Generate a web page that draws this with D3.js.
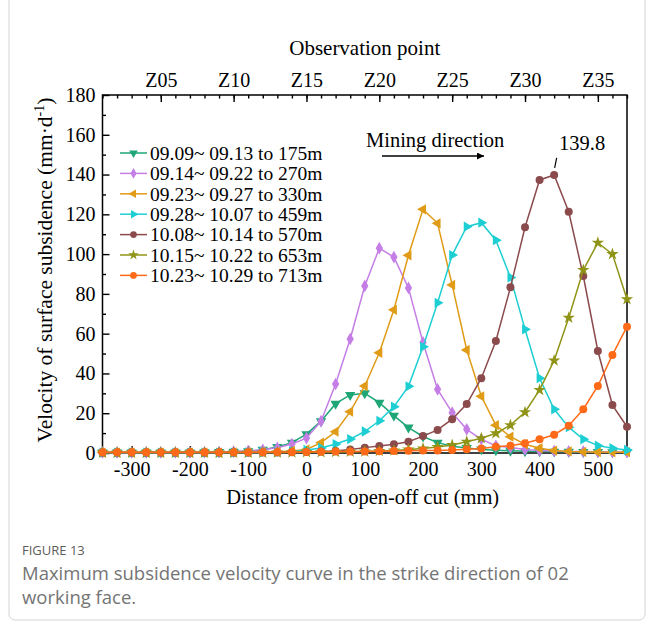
<!DOCTYPE html>
<html>
<head>
<meta charset="utf-8">
<script src="https://cdn.jsdelivr.net/npm/d3@7"></script>
<style>
  body { margin: 0; background: #fff; }
  svg { display: block; }
</style>
</head>
<body>
<script>
// distance of each observation point from the open-off cut (Z01 ... Z37)
var distance = [-350, -325, -300, -275, -250, -225, -200, -175, -150, -125, -100, -75, -50, -25,
	0, 25, 50, 75, 100, 125, 150, 175, 200, 225, 250, 275, 300, 325, 350, 375, 400, 425, 450, 475, 500, 525, 550]

var s0909 = [0.3, 0.3, 0.3, 0.3, 0.3, 0.3, 0.3, 0.4, 0.5, 0.6, 0.9, 1.6, 3, 5.2,
	9.5, 16, 24.8, 29.2, 30, 25.3, 18.8, 12.8, 8.3, 5.2, 3.4, 2.5, 1.8, 1.4, 1.1, 0.9, 0.8, 0.7, 0.6, 0.5, 0.5, 0.4, 0.4]
var s0914 = [0.3, 0.3, 0.3, 0.3, 0.3, 0.3, 0.3, 0.4, 0.5, 0.7, 1.0, 1.6, 2.6, 4.5,
	7.5, 16, 34.7, 57.3, 84, 103, 98.5, 83, 55.6, 32, 20.3, 11.9, 6.9, 3.6, 2.8, 1.8, 1.3, 1.0, 0.8, 0.7, 0.6, 0.5, 0.5]
var s0923 = [0.2, 0.2, 0.2, 0.2, 0.2, 0.2, 0.2, 0.2, 0.2, 0.3, 0.3, 0.4, 0.6, 1.0,
	1.8, 5.2, 10.7, 20.8, 33.7, 50.4, 72, 99.4, 122.5, 115.5, 84.5, 51.8, 28.5, 14, 8.2, 4.4, 2.4, 1.2, 0.8, 0.6, 0.5, 0.4, 0.4]
var s0928 = [0.2, 0.2, 0.2, 0.2, 0.2, 0.2, 0.2, 0.2, 0.2, 0.2, 0.3, 0.3, 0.4, 0.8,
	1.5, 2.5, 4.5, 7, 10.8, 16.2, 23.3, 33.5, 53.4, 75.5, 99.5, 113.8, 115.8, 107, 88.3, 62.2, 37.6, 22, 13, 6.9, 3.7, 2.4, 1.5]
var s1008 = [0.2, 0.2, 0.2, 0.2, 0.2, 0.2, 0.2, 0.2, 0.2, 0.2, 0.2, 0.3, 0.3, 0.4,
	0.5, 0.8, 1.0, 1.8, 2.7, 3.5, 4.4, 5.7, 8.5, 11.6, 17, 24.6, 37.6, 56.3, 83.3, 113.5, 137.3, 139.8, 121.3, 89, 51.3, 24.1, 13.2]
var s1015 = [0.2, 0.2, 0.2, 0.2, 0.2, 0.2, 0.2, 0.2, 0.2, 0.2, 0.2, 0.2, 0.3, 0.3,
	0.4, 0.4, 0.5, 0.6, 0.8, 1.0, 1.3, 1.8, 2.3, 3.0, 4.0, 5.7, 7.4, 9.9, 14, 20.5, 31.7, 46.5, 68, 92, 105.7, 100, 77.3]
var s1023 = [0.4, 0.4, 0.4, 0.4, 0.4, 0.4, 0.4, 0.4, 0.4, 0.4, 0.4, 0.4, 0.5, 0.5,
	0.5, 0.6, 0.7, 0.7, 0.8, 0.9, 1.0, 1.1, 1.2, 1.3, 1.5, 1.9, 2.3, 3.2, 3.7, 4.9, 6.9, 9.2, 13.7, 22, 33.7, 49.3, 63.5]

var seriesNames = ["09.09~ 09.13 to 175m", "09.14~ 09.22 to 270m", "09.23~ 09.27 to 330m",
	"09.28~ 10.07 to 459m", "10.08~ 10.14 to 570m", "10.15~ 10.22 to 653m", "10.23~ 10.29 to 713m"]
var seriesValues = [s0909, s0914, s0923, s0928, s1008, s1015, s1023]
var seriesColors = ["#1ea676", "#c47ee6", "#e09b17", "#1dcfd3", "#8b4a4b", "#8f9416", "#ff6a19"]

// observation point labels on top axis
var obsNumbers = [5, 10, 15, 20, 25, 30, 35]
var obsLabels = ["Z05", "Z10", "Z15", "Z20", "Z25", "Z30", "Z35"]

var xTicks = [-300, -200, -100, 0, 100, 200, 300, 400, 500]
var yTicks = [0, 20, 40, 60, 80, 100, 120, 140, 160, 180]

var w = 652
var h = 630
var pLeft = 102.5, pRight = 627, pTop = 95, pBottom = 453
var serif = "'Liberation Serif', 'Times New Roman', serif"

var svg = d3.select("body").append("svg")
	.attr("width", w)
	.attr("height", h)

// card frame
svg.append("rect")
	.attr("x", 9).attr("y", -12)
	.attr("width", 636).attr("height", 632)
	.attr("rx", 6)
	.attr("fill", "none")
	.attr("stroke", "#d4d4d4")
	.attr("stroke-width", 1)

// Scales
var xScale = d3.scaleLinear().domain([-350, 550]).range([pLeft, pRight])
var yScale = d3.scaleLinear().domain([0, 180]).range([pBottom, pTop])

// Axes
function styleAxis(g){
	g.select(".domain").remove()
	g.selectAll("line").attr("stroke", "#000").attr("stroke-width", 1.4)
	g.selectAll("text").attr("font-family", serif).attr("font-size", "20px").attr("fill", "#000")
}

svg.append("g")
	.attr("transform", "translate(0," + pBottom + ")")
	.call(d3.axisBottom(xScale).tickValues([-350, -250, -150, -50, 50, 150, 250, 350, 450, 550]).tickSize(-3.5).tickFormat(""))
	.call(styleAxis)
svg.append("g")
	.attr("transform", "translate(0," + pBottom + ")")
	.call(d3.axisBottom(xScale).tickValues(xTicks).tickSize(-7).tickPadding(9).tickFormat((d) => String(d)))
	.call(styleAxis)

svg.append("g")
	.attr("transform", "translate(" + pLeft + ",0)")
	.call(d3.axisLeft(yScale).tickValues([10, 30, 50, 70, 90, 110, 130, 150, 170]).tickSize(-3.5).tickFormat(""))
	.call(styleAxis)
svg.append("g")
	.attr("transform", "translate(" + pLeft + ",0)")
	.call(d3.axisLeft(yScale).tickValues(yTicks).tickSize(-7).tickPadding(7).tickFormat((d) => String(d)))
	.call(styleAxis)

svg.append("g")
	.attr("transform", "translate(0," + pTop + ")")
	.call(d3.axisTop(xScale).tickValues(distance).tickSize(-3.5).tickFormat(""))
	.call(styleAxis)
svg.append("g")
	.attr("transform", "translate(0," + pTop + ")")
	.call(d3.axisTop(xScale)
		.tickValues(obsNumbers.map((n) => distance[n - 1]))
		.tickSize(-7).tickPadding(8)
		.tickFormat((d, i) => obsLabels[i]))
	.call(styleAxis)

svg.append("rect")
	.attr("x", pLeft).attr("y", pTop)
	.attr("width", pRight - pLeft).attr("height", pBottom - pTop)
	.attr("fill", "none")
	.attr("stroke", "#000")
	.attr("stroke-width", 1.5)

// Markers
var markerTypes = [
	{type: d3.symbolTriangle, rot: 180, size: 46},
	{type: d3.symbolDiamond, rot: 0, size: 46},
	{type: d3.symbolTriangle, rot: -90, size: 46},
	{type: d3.symbolTriangle, rot: 90, size: 46},
	{type: d3.symbolCircle, rot: 0, size: 50},
	{type: d3.symbolStar, rot: 0, size: 48},
	{type: d3.symbolCircle, rot: 0, size: 50}
]

var line = d3.line()
	.x((d, i) => xScale(distance[i]))
	.y((d) => yScale(d))

seriesValues.forEach(function(vals, k){
	var g = svg.append("g")
	g.append("path")
		.datum(vals)
		.attr("d", line)
		.attr("fill", "none")
		.attr("stroke", seriesColors[k])
		.attr("stroke-width", 1.5)
	g.selectAll("path.mk")
		.data(vals)
		.enter()
		.append("path")
		.attr("class", "mk")
		.attr("d", d3.symbol().type(markerTypes[k].type).size(markerTypes[k].size))
		.attr("transform", (d, i) => "translate(" + xScale(distance[i]) + "," + yScale(d) + ") rotate(" + markerTypes[k].rot + ")")
		.attr("fill", seriesColors[k])
})

// Legend
var legend = svg.append("g")
seriesNames.forEach(function(name, k){
	var y = 153 + k * 20.4
	legend.append("line")
		.attr("x1", 120).attr("x2", 147)
		.attr("y1", y).attr("y2", y)
		.attr("stroke", seriesColors[k])
		.attr("stroke-width", 1.5)
	legend.append("path")
		.attr("d", d3.symbol().type(markerTypes[k].type).size(markerTypes[k].size * 0.7))
		.attr("transform", "translate(133.5," + y + ") rotate(" + markerTypes[k].rot + ")")
		.attr("fill", seriesColors[k])
	legend.append("text")
		.attr("x", 150).attr("y", y)
		.attr("dy", "0.35em")
		.attr("font-family", serif)
		.attr("font-size", "19.5px")
		.text(name)
})

// Mining direction note
svg.append("text")
	.attr("x", 366).attr("y", 147)
	.attr("font-family", serif).attr("font-size", "20.5px")
	.text("Mining direction")
svg.append("defs").append("marker")
	.attr("id", "arrow")
	.attr("viewBox", "0 0 10 10")
	.attr("refX", 10).attr("refY", 5)
	.attr("markerWidth", 12).attr("markerHeight", 7)
	.attr("markerUnits", "userSpaceOnUse")
	.attr("orient", "auto")
	.append("path")
	.attr("d", "M0,0L10,5L0,10Z")
	.attr("fill", "#000")
svg.append("line")
	.attr("x1", 382).attr("x2", 484)
	.attr("y1", 156).attr("y2", 156)
	.attr("stroke", "#000").attr("stroke-width", 1.3)
	.attr("marker-end", "url(#arrow)")

// peak annotation
svg.append("line")
	.attr("x1", xScale(425) + 2.5).attr("y1", yScale(139.8) - 17)
	.attr("x2", xScale(425) + 0.5).attr("y2", yScale(139.8) - 7)
	.attr("stroke", "#000").attr("stroke-width", 1.2)
svg.append("text")
	.attr("x", 559).attr("y", 150)
	.attr("font-family", serif).attr("font-size", "20.5px")
	.text("139.8")

// Axis titles
svg.append("text")
	.attr("x", (pLeft + pRight) / 2).attr("y", 55)
	.attr("text-anchor", "middle")
	.attr("font-family", serif).attr("font-size", "21px")
	.text("Observation point")

svg.append("text")
	.attr("x", (pLeft + pRight) / 2 - 2).attr("y", 504)
	.attr("text-anchor", "middle")
	.attr("font-family", serif).attr("font-size", "20.5px")
	.text("Distance from open-off cut (mm)")

var yTitle = svg.append("text")
	.attr("transform", "translate(52,270) rotate(-90)")
	.attr("text-anchor", "middle")
	.attr("font-family", serif).attr("font-size", "21.5px")
yTitle.append("tspan").text("Velocity of surface subsidence (mm\u00b7d")
yTitle.append("tspan").attr("font-size", "14px").attr("dy", "-8").text("-1")
yTitle.append("tspan").attr("dy", "8").text(")")

// caption
svg.append("text")
	.attr("x", 22).attr("y", 555)
	.attr("font-family", "'Open Sans', sans-serif").attr("font-size", "13px")
	.attr("fill", "#5c5c5c")
	.text("FIGURE 13")
svg.append("text")
	.attr("x", 22).attr("y", 580)
	.attr("font-family", "'Open Sans', sans-serif").attr("font-size", "18.5px")
	.attr("fill", "#747474")
	.text("Maximum subsidence velocity curve in the strike direction of 02")
svg.append("text")
	.attr("x", 22).attr("y", 604)
	.attr("font-family", "'Open Sans', sans-serif").attr("font-size", "18.5px")
	.attr("fill", "#747474")
	.text("working face.")
</script>
</body>
</html>
